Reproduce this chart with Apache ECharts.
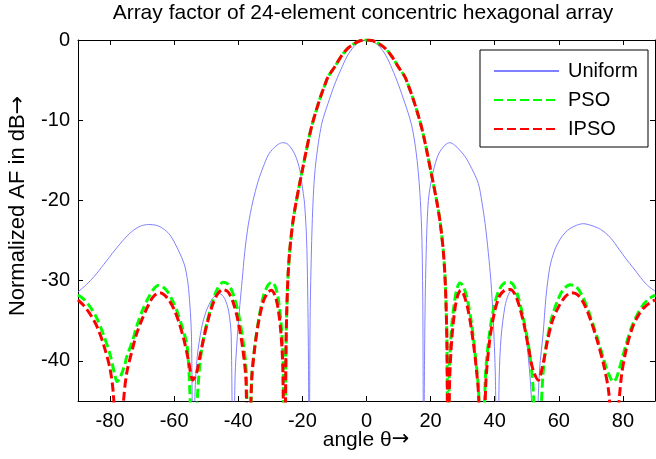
<!DOCTYPE html>
<html>
<head>
<meta charset="utf-8">
<script src="https://cdn.jsdelivr.net/npm/echarts@6/dist/echarts.min.js"></script>
<style>html,body{margin:0;padding:0;background:#fff}#c{width:656px;height:459px}</style>
</head>
<body>
<div id="c"></div>
<script>
var titleText = 'Array factor of 24-element concentric hexagonal array';
var xLabel = 'angle \u03b8';
var yLabel = 'Normalized AF in dB';
var arrow = '\u2192';
var seriesNames = ['Uniform', 'PSO', 'IPSO'];
var xTicks = [-80, -60, -40, -20, 0, 20, 40, 60, 80];
var yTicks = [-40, -30, -20, -10, 0];

var uniform = [
 [-90,-31.4],[-87.4,-30.5],[-85,-29.5],[-82,-28],[-78.5,-26.2],[-76,-25],[-73.3,-23.9],[-70.5,-23.2],[-68,-23],[-65.5,-23.1],[-63.5,-23.5],[-61.5,-24.2],[-59.7,-25.4],[-58,-26.8],[-56.6,-28.3],[-55.5,-31],[-54.6,-37],[-54.1,-60],[-53.5,-44],[-52.8,-39.5],[-51.5,-36],[-50,-33.8],[-48,-32.2],[-45.9,-31.6],[-44.3,-32.2],[-43,-33.8],[-42.2,-37],[-41.6,-60],[-41,-42],[-40.3,-37],[-39.5,-33],[-38.8,-30],[-38,-26.5],[-36.9,-23.1],[-35.5,-20.2],[-33.8,-17.6],[-32.2,-15.8],[-30.6,-14.3],[-29,-13.5],[-27.5,-13.0],[-26.2,-12.8],[-24.5,-13],[-22.3,-14.3],[-20.8,-16.2],[-20.2,-17.8],[-19.3,-20.5],[-18.6,-26],[-18.1,-40],[-17.9,-60],[-17.6,-35],[-17.1,-25],[-16.6,-19.5],[-16,-16],[-15,-12.8],[-14,-10.5],[-13,-9.1],[-12,-7.9],[-10,-5.6],[-8,-3.7],[-6,-2],[-4,-0.85],[-2,-0.2],[0,0],
 [2,-0.2],[4,-0.8],[6,-1.9],[8,-3.6],[10,-5.6],[12,-7.9],[13,-9.1],[14,-10.5],[15,-12.6],[16,-15.8],[16.8,-20],[17.3,-25],[17.6,-35],[17.8,-60],[18.1,-40],[18.5,-28.5],[19.3,-20],[20.8,-16.4],[22.5,-14.2],[24.5,-13.1],[26,-12.8],[27.5,-13.1],[29,-13.7],[30.7,-14.5],[32.8,-16],[34.9,-17.9],[36,-20.2],[37,-22.9],[38,-26.5],[38.8,-30],[39.5,-34.5],[40.2,-42],[40.8,-60],[41.4,-42],[42,-37],[43.2,-33.2],[44.3,-31.7],[45.3,-31.2],[46.5,-31.7],[47.8,-33],[49,-35],[50.2,-38.5],[51.2,-43],[52,-50],[52.6,-60],[53.3,-48],[54,-41],[55.1,-36.6],[56,-32],[57.2,-28.3],[58.7,-26.2],[60.3,-24.9],[62,-24],[63.5,-23.5],[65.5,-23.1],[67.6,-22.9],[70,-23.1],[73,-23.6],[76,-24.6],[79,-26.2],[81,-27.3],[83.2,-28.4],[85.5,-29.6],[87.4,-30.5],[90,-31.3]
];

var pso = [
 [-90,-31.8],[-88,-32.4],[-86,-33.4],[-84,-34.8],[-82,-36.8],[-80,-39.2],[-78.5,-41.8],[-77.8,-42.6],[-77,-42.2],[-75.5,-40.6],[-74.8,-39.5],[-73,-37.5],[-71.7,-35.7],[-70,-33.8],[-68,-32.1],[-66.5,-31.1],[-65,-30.6],[-63.5,-30.8],[-62,-31.4],[-60.5,-32.5],[-59.2,-33.7],[-57.5,-35.8],[-56.1,-37.8],[-55.5,-40.5],[-55,-45],[-54,-60],[-52.8,-45],[-52,-40.5],[-51,-37.5],[-49.5,-34.8],[-48,-32.6],[-46.5,-31],[-44.7,-30.2],[-43,-30.5],[-41.5,-31.8],[-40,-34],[-38.5,-37.5],[-37.5,-41.5],[-36.7,-60],[-35.8,-42],[-34.8,-38],[-33.5,-34.5],[-32.2,-32],[-30.8,-30.6],[-29.6,-30.2],[-28.5,-30.7],[-27.5,-32.3],[-26.6,-35.5],[-26,-40],[-25.5,-60],[-25.1,-38],[-24.6,-30.5],[-24,-26.5],[-23,-22.8],[-22,-20.3],[-21,-18.2],[-20,-16.2],[-19,-14.2],[-18,-12.3],[-17,-10.6],[-16,-9.2],[-15,-7.9],[-14,-6.7],[-13,-5.6],[-12,-4.6],[-10,-3.4],[-8,-2.1],[-6,-1.1],[-4,-0.5],[-2,-0.1],[0,0],
 [2,-0.1],[4,-0.5],[6,-1.1],[8,-2.1],[10,-3.4],[12,-4.6],[13,-5.6],[14,-6.7],[15,-7.9],[16,-9.2],[17,-10.6],[18,-12.3],[19,-14.2],[20,-16.2],[21,-18.2],[22,-20.3],[23,-22.8],[24,-26.5],[24.6,-30.5],[25.1,-38],[25.4,-60],[25.8,-42],[26.5,-36],[27.5,-32.5],[28.3,-30.9],[29.2,-30.3],[30.2,-30.7],[31.5,-32.4],[32.8,-35.4],[34,-39.5],[35,-44],[36,-60],[37.1,-42],[38.3,-36.8],[39.8,-33.2],[41.3,-31.2],[43,-30.3],[44.7,-30.2],[46.2,-30.8],[47.6,-32.4],[49,-34.8],[50.5,-38],[51.6,-41.5],[52.2,-45],[53.4,-60],[54.6,-45],[55.3,-40.5],[56.3,-37.5],[57.8,-34.6],[59.5,-32.6],[61.2,-31.2],[63.5,-30.5],[65.5,-30.8],[67.2,-31.8],[69,-33.5],[70.8,-35.6],[72.5,-37.8],[74,-39.8],[75.5,-41.6],[77,-42.6],[78,-42.1],[79.2,-40.5],[80.8,-38.2],[82.5,-36],[84.5,-34.2],[86.5,-32.9],[88.3,-32.2],[90,-31.8]
];

var ipso = [
 [-90,-32.4],[-88,-33.2],[-86,-34.3],[-84,-35.8],[-82,-38],[-80,-41],[-79,-44],[-78.2,-50],[-77.4,-60],[-76.6,-50],[-75.8,-45],[-74.8,-41.5],[-73,-38.5],[-71.7,-36.6],[-70,-34.8],[-68,-33],[-66.5,-32],[-64.5,-31.5],[-63,-31.8],[-61.5,-32.5],[-60,-33.6],[-58.5,-35.2],[-57,-37.3],[-55.5,-40],[-54.2,-42.4],[-53,-41.5],[-52,-39.5],[-51,-37.6],[-49.5,-35],[-48,-33],[-46.5,-31.7],[-44.9,-31.1],[-43.2,-31.4],[-41.7,-32.6],[-40.2,-34.8],[-38.7,-38.2],[-37.6,-42.5],[-36.8,-60],[-35.9,-43],[-34.9,-38.5],[-33.6,-35],[-32.2,-32.6],[-30.8,-31.5],[-29.7,-31.2],[-28.6,-31.8],[-27.6,-33.4],[-26.7,-36.5],[-26.1,-41],[-25.6,-60],[-25.1,-38],[-24.6,-30.5],[-24,-26.5],[-23,-22.8],[-22,-20.3],[-21,-18.2],[-20,-16.2],[-19,-14.2],[-18,-12.3],[-17,-10.6],[-16,-9.2],[-15,-7.9],[-14,-6.7],[-13,-5.6],[-12,-4.6],[-10,-3.4],[-8,-2.1],[-6,-1.1],[-4,-0.5],[-2,-0.1],[0,0],
 [2,-0.1],[4,-0.5],[6,-1.1],[8,-2.1],[10,-3.4],[12,-4.6],[13,-5.6],[14,-6.7],[15,-7.9],[16,-9.2],[17,-10.6],[18,-12.3],[19,-14.2],[20,-16.2],[21,-18.2],[22,-20.3],[23,-22.8],[24,-26.5],[24.6,-30.5],[25.1,-38],[25.5,-60],[25.9,-43],[26.6,-37.3],[27.6,-33.5],[28.5,-31.8],[29.4,-31.2],[30.3,-31.7],[31.5,-33.3],[32.8,-36.2],[34,-40],[35,-44.5],[36.1,-60],[37.2,-43],[38.4,-37.5],[39.9,-34],[41.4,-32],[43.1,-31.2],[44.9,-31.1],[46.3,-31.7],[47.7,-33.2],[49.1,-35.4],[50.6,-38.5],[52,-41.2],[53.6,-42.4],[55,-40.5],[56.4,-37.6],[58,-35],[60,-33.2],[62,-32],[64,-31.5],[66,-31.8],[68,-33],[70,-35],[72,-37.5],[74,-40.5],[75.6,-44],[76.5,-50],[77.4,-60],[78.3,-48],[79.5,-42],[81,-38.6],[83,-35.8],[85,-34.2],[87,-33.2],[90,-32.4]
];

var FONT = 'Liberation Sans, Arial, sans-serif';
var chart = echarts.init(document.getElementById('c'), null, {renderer: 'canvas'});
var tickCommon = {show: true, inside: true, length: 5, lineStyle: {color: '#000', width: 1}};
var axisLineCommon = {show: true, onZero: false, lineStyle: {color: '#000', width: 1}};
var xRich = {
  t: {fontSize: 21, fontFamily: FONT, fill: '#000'},
  a: {fontSize: 21, fontFamily: 'DejaVu Sans', fill: '#000'}
};
var yRich = {
  t: {fontSize: 22, fontFamily: FONT, fill: '#000'},
  a: {fontSize: 22, fontFamily: 'DejaVu Sans', fill: '#000'}
};
chart.setOption({
  animation: false,
  backgroundColor: '#fff',
  grid: {left: 78, right: 1, top: 40, bottom: 58, containLabel: false},
  xAxis: [{
    type: 'value', min: -90, max: 90, position: 'bottom',
    axisLine: axisLineCommon,
    axisTick: Object.assign({customValues: xTicks}, tickCommon),
    axisLabel: {customValues: xTicks, color: '#000', fontSize: 20, fontFamily: FONT, margin: 10},
    splitLine: {show: false}
  }, {
    type: 'value', min: -90, max: 90, position: 'top',
    axisLine: axisLineCommon,
    axisTick: Object.assign({customValues: xTicks}, tickCommon),
    axisLabel: {show: false},
    splitLine: {show: false}
  }],
  yAxis: [{
    type: 'value', min: -45, max: 0, position: 'left',
    axisLine: axisLineCommon,
    axisTick: Object.assign({customValues: yTicks}, tickCommon),
    axisLabel: {customValues: yTicks, color: '#000', fontSize: 20, fontFamily: FONT, margin: 8},
    splitLine: {show: false}
  }, {
    type: 'value', min: -45, max: 0, position: 'right',
    axisLine: axisLineCommon,
    axisTick: Object.assign({customValues: yTicks}, tickCommon),
    axisLabel: {show: false},
    splitLine: {show: false}
  }],
  legend: {
    orient: 'vertical', left: 480, top: 50,
    padding: [11, 10, 8, 13], itemGap: 9, itemWidth: 65, itemHeight: 20,
    backgroundColor: '#fff', borderColor: '#000', borderWidth: 1, borderRadius: 0,
    itemStyle: {opacity: 0},
    textStyle: {color: '#000', fontSize: 20, fontFamily: FONT, lineHeight: 20, padding: [0, 0, 0, 4]},
    data: seriesNames
  },
  graphic: [
    {type: 'text', x: 363, y: 3, style: {text: titleText, fill: '#000', font: '21px ' + FONT, textAlign: 'center', textVerticalAlign: 'top'}},
    {type: 'text', x: 366, y: 440, style: {text: '{t|' + xLabel + '}{a|' + arrow + '}', rich: xRich, textAlign: 'center', textVerticalAlign: 'middle'}},
    {type: 'text', x: 18, y: 206, rotation: Math.PI / 2, style: {text: '{t|' + yLabel + '}{a|' + arrow + '}', rich: yRich, textAlign: 'center', textVerticalAlign: 'middle'}}
  ],
  series: [{
    name: seriesNames[0], type: 'line', data: uniform, symbol: 'none', smooth: 0.3, clip: true,
    lineStyle: {color: '#8080ff', width: 1}, itemStyle: {color: '#8080ff'}, z: 2
  }, {
    name: seriesNames[1], type: 'line', data: pso, symbol: 'none', smooth: 0.3, clip: true,
    lineStyle: {color: '#00ff00', width: 3, type: [9, 4]}, itemStyle: {color: '#00ff00'}, z: 3
  }, {
    name: seriesNames[2], type: 'line', data: ipso, symbol: 'none', smooth: 0.3, clip: true,
    lineStyle: {color: '#ff0000', width: 3, type: [9, 4]}, itemStyle: {color: '#ff0000'}, z: 4
  }]
});
</script>
</body>
</html>
